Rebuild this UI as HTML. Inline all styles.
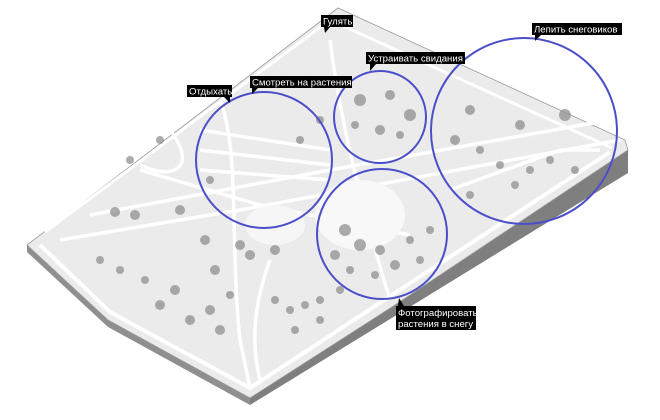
<!DOCTYPE html>
<html><head><meta charset="utf-8"><style>
html,body{margin:0;padding:0;background:#fff;width:660px;height:420px;overflow:hidden}
svg{display:block}
.l{font-family:"Liberation Sans","DejaVu Sans",sans-serif;font-size:9.6px;fill:#fff}
</style></head><body>
<svg width="660" height="420" viewBox="0 0 660 420" xmlns="http://www.w3.org/2000/svg">
<defs>
<filter id="n"><feTurbulence type="fractalNoise" baseFrequency="0.9" numOctaves="2" result="t"/><feColorMatrix type="saturate" values="0"/><feComponentTransfer><feFuncA type="linear" slope="0.25"/></feComponentTransfer><feComposite in2="SourceGraphic" operator="in"/></filter>
</defs>
<polygon points="628,148 628,173 250,405 250,398" fill="#7f7f7f"/>
<polygon points="27,245 27,252 108,327 250,405 250,398 108,320" fill="#8f8f8f"/>
<polygon points="338,8 625,140 628,150 395,305 250,398 108,320 27,245" fill="#eeeeee" stroke="#999" stroke-width="0.8"/>
<polygon points="338,8 625,140 628,150 395,305 250,398 108,320 27,245" fill="#888" filter="url(#n)" opacity="0.45"/>
<polyline points="40,245 110,312 250,388 610,152" fill="none" stroke="#fff" stroke-width="4"/>
<polyline points="45,232 330,20 612,148" fill="none" stroke="#fff" stroke-width="3"/>
<g fill="none" stroke="#fff" stroke-width="3.5">
<path d="M60,240 L240,210 L620,140"/>
<path d="M90,215 L330,170 L610,120"/>
<path d="M140,170 L260,205 L410,235"/>
<path d="M200,130 L330,150"/>
<path d="M200,150 L330,165"/>
<path d="M200,170 L330,180"/>
<path d="M220,100 C240,150 230,250 240,340 L250,388"/>
<path d="M330,40 C340,120 360,200 390,300"/>
<path d="M170,130 C200,170 170,180 140,165"/>
<path d="M270,260 C255,300 250,340 260,380"/>
<path d="M450,190 L560,150 L600,150"/>
</g>
<ellipse cx="360" cy="215" rx="45" ry="35" fill="#f8f8f8"/>
<ellipse cx="275" cy="225" rx="30" ry="20" fill="#f6f6f6"/>
<g fill="#8a8a8a" opacity="0.7">
<circle cx="360" cy="100" r="6"/><circle cx="390" cy="95" r="5"/><circle cx="410" cy="115" r="6"/><circle cx="380" cy="130" r="5"/><circle cx="355" cy="125" r="4"/><circle cx="400" cy="135" r="4"/>
<circle cx="470" cy="110" r="5"/><circle cx="520" cy="125" r="5"/><circle cx="565" cy="115" r="6"/><circle cx="455" cy="140" r="5"/><circle cx="480" cy="150" r="4"/><circle cx="500" cy="165" r="4"/><circle cx="530" cy="170" r="4"/><circle cx="550" cy="160" r="4"/><circle cx="575" cy="170" r="4"/><circle cx="515" cy="185" r="4"/><circle cx="470" cy="195" r="4"/>
<circle cx="345" cy="230" r="6"/><circle cx="360" cy="245" r="6"/><circle cx="380" cy="250" r="5"/><circle cx="335" cy="255" r="5"/><circle cx="395" cy="265" r="5"/><circle cx="410" cy="240" r="4"/><circle cx="420" cy="260" r="4"/><circle cx="430" cy="230" r="4"/><circle cx="350" cy="270" r="4"/><circle cx="375" cy="275" r="4"/>
<circle cx="115" cy="212" r="5"/><circle cx="135" cy="215" r="5"/><circle cx="180" cy="210" r="5"/><circle cx="205" cy="240" r="5"/><circle cx="215" cy="270" r="5"/><circle cx="240" cy="245" r="5"/><circle cx="250" cy="255" r="5"/><circle cx="275" cy="250" r="5"/>
<circle cx="100" cy="260" r="4"/><circle cx="120" cy="270" r="4"/><circle cx="175" cy="290" r="5"/><circle cx="160" cy="305" r="5"/><circle cx="190" cy="320" r="5"/><circle cx="210" cy="310" r="5"/><circle cx="220" cy="330" r="5"/><circle cx="145" cy="280" r="4"/><circle cx="230" cy="295" r="4"/>
<circle cx="275" cy="300" r="4"/><circle cx="290" cy="310" r="4"/><circle cx="305" cy="305" r="4"/><circle cx="320" cy="300" r="4"/><circle cx="295" cy="330" r="4"/><circle cx="320" cy="320" r="4"/><circle cx="340" cy="290" r="4"/>
<circle cx="210" cy="180" r="4"/><circle cx="300" cy="140" r="4"/><circle cx="320" cy="120" r="4"/><circle cx="130" cy="160" r="4"/><circle cx="160" cy="140" r="4"/>
</g>
<g fill="none" stroke="#4a4fc9" stroke-width="2">
<circle cx="264" cy="160" r="68"/>
<circle cx="380" cy="117" r="46"/>
<circle cx="524" cy="131" r="93"/>
<circle cx="382" cy="234" r="65"/>
</g>
<g>
<rect x="321" y="15" width="32" height="12" fill="#000"/><polygon points="324,27 330,27 325,33" fill="#000"/>
<text class="l" x="323" y="24.5">Гулять</text>
<rect x="532" y="23" width="90" height="12" fill="#000"/><polygon points="535,35 541,35 535,41" fill="#000"/>
<text class="l" x="534" y="32.5">Лепить снеговиков</text>
<rect x="366" y="52" width="99" height="12" fill="#000"/><polygon points="370,64 376,64 370,71" fill="#000"/>
<text class="l" x="368" y="61.5">Устраивать свидания</text>
<rect x="250" y="76" width="102" height="12" fill="#000"/><polygon points="252,88 258,88 252,94" fill="#000"/>
<text class="l" x="252" y="85.5">Смотреть на растения</text>
<rect x="187" y="85" width="45" height="12" fill="#000"/><polygon points="224,97 230,97 230,103" fill="#000"/>
<text class="l" x="189" y="94.5">Отдыхать</text>
<rect x="396" y="306" width="80" height="24" fill="#000"/><polygon points="398,306 404,306 399,298" fill="#000"/>
<text class="l" x="398" y="316">Фотографировать</text>
<text class="l" x="398" y="327">растения в снегу</text>
</g>
</svg>
</body></html>
